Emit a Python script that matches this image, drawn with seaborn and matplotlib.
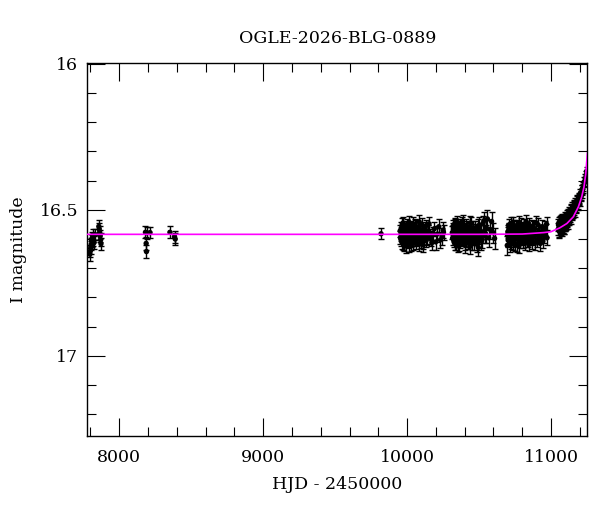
import pandas as pd
import seaborn as sns
import matplotlib.pyplot as plt
from matplotlib.ticker import MultipleLocator, FormatStrFormatter

# I-band photometry, one set of lists per season
s1_hjd = [7796, 7799, 7802, 7805, 7808, 7812, 7816, 7820, 7825, 7830,
          7858, 7861, 7864, 7867, 7870, 7873]
s1_mag = [16.652, 16.641, 16.628, 16.618, 16.606, 16.597, 16.588, 16.601, 16.612, 16.584,
          16.557, 16.566, 16.577, 16.590, 16.603, 16.616]
s1_err = [0.022, 0.021, 0.022, 0.020, 0.021, 0.020, 0.021, 0.022, 0.021, 0.020,
          0.021, 0.020, 0.022, 0.021, 0.022, 0.021]

s2_hjd = [8182, 8187, 8189, 8192, 8214]
s2_mag = [16.577, 16.615, 16.643, 16.579, 16.578]
s2_err = [0.020, 0.021, 0.022, 0.020, 0.020]

s3_hjd = [8352, 8384, 8389]
s3_mag = [16.577, 16.592, 16.600]
s3_err = [0.020, 0.021, 0.021]

s4_hjd = [9819]
s4_mag = [16.582]
s4_err = [0.019]

s5_hjd = [9952, 9957, 9961, 9966, 9970, 9975, 9979, 9984, 9989, 9993,
          9998, 10003, 10008, 10014, 10019, 10025, 10030, 10036, 10042, 10047,
          10053, 10059, 10065, 10071, 10078, 10084, 10091, 10098, 10105, 10112,
          10119, 10128, 10137, 10147, 10158, 10172, 10189, 10209, 10232, 10253,
          9954, 9959, 9963, 9968, 9972, 9977, 9981, 9986, 9991, 9995,
          10000, 10005, 10011, 10016, 10022, 10027, 10033, 10039, 10044, 10050,
          10056, 10062, 10068, 10074, 10081, 10087, 10094, 10101, 10108, 10115,
          10123, 10132, 10142, 10152, 10164, 10180, 10198, 10220, 10243, 10250]
s5_mag = [16.572, 16.601, 16.588, 16.549, 16.614, 16.580, 16.566, 16.597, 16.623, 16.558,
          16.585, 16.609, 16.570, 16.543, 16.593, 16.617, 16.579, 16.561, 16.600, 16.586,
          16.553, 16.611, 16.575, 16.596, 16.563, 16.541, 16.588, 16.606, 16.569, 16.620,
          16.582, 16.556, 16.598, 16.574, 16.591, 16.612, 16.565, 16.583, 16.603, 16.577,
          16.595, 16.563, 16.610, 16.578, 16.545, 16.590, 16.617, 16.568, 16.584, 16.604,
          16.551, 16.598, 16.621, 16.575, 16.560, 16.606, 16.587, 16.547, 16.615, 16.571,
          16.592, 16.558, 16.603, 16.580, 16.618, 16.566, 16.594, 16.550, 16.609, 16.583,
          16.567, 16.605, 16.576, 16.548, 16.599, 16.585, 16.610, 16.558, 16.592, 16.570]
s5_err = [0.021, 0.023, 0.020, 0.022, 0.024, 0.021, 0.020, 0.022, 0.025, 0.021,
          0.022, 0.023, 0.020, 0.021, 0.022, 0.024, 0.021, 0.020, 0.023, 0.022,
          0.021, 0.024, 0.022, 0.023, 0.021, 0.022, 0.023, 0.025, 0.022, 0.024,
          0.023, 0.022, 0.024, 0.023, 0.025, 0.026, 0.024, 0.027, 0.028, 0.026,
          0.022, 0.021, 0.023, 0.020, 0.022, 0.021, 0.024, 0.022, 0.021, 0.023,
          0.020, 0.022, 0.024, 0.021, 0.022, 0.023, 0.021, 0.022, 0.024, 0.021,
          0.023, 0.022, 0.021, 0.024, 0.023, 0.022, 0.021, 0.023, 0.024, 0.022,
          0.024, 0.023, 0.025, 0.024, 0.026, 0.025, 0.027, 0.026, 0.029, 0.027]

s6_hjd = [10314, 10319, 10323, 10328, 10332, 10337, 10342, 10346, 10351, 10356,
          10361, 10366, 10371, 10376, 10382, 10387, 10393, 10399, 10405, 10411,
          10417, 10423, 10430, 10436, 10443, 10450, 10457, 10464, 10471, 10479,
          10487, 10495, 10503, 10512, 10522, 10533, 10545, 10558, 10577, 10608,
          10316, 10321, 10325, 10330, 10335, 10339, 10344, 10349, 10353, 10358,
          10363, 10368, 10374, 10379, 10384, 10390, 10396, 10402, 10408, 10414,
          10420, 10427, 10433, 10440, 10446, 10453, 10460, 10468, 10475, 10483,
          10491, 10499, 10507, 10517, 10527, 10539, 10551, 10567, 10587, 10600]
s6_mag = [16.578, 16.556, 16.603, 16.589, 16.547, 16.612, 16.570, 16.594, 16.561, 16.620,
          16.583, 16.552, 16.607, 16.575, 16.598, 16.540, 16.586, 16.615, 16.566, 16.592,
          16.559, 16.604, 16.579, 16.626, 16.548, 16.590, 16.571, 16.611, 16.563, 16.596,
          16.584, 16.629, 16.553, 16.575, 16.601, 16.538, 16.582, 16.531, 16.567, 16.598,
          16.597, 16.566, 16.585, 16.614, 16.552, 16.579, 16.606, 16.543, 16.590, 16.571,
          16.618, 16.560, 16.583, 16.600, 16.548, 16.593, 16.575, 16.622, 16.556, 16.587,
          16.609, 16.568, 16.596, 16.545, 16.581, 16.613, 16.563, 16.599, 16.574, 16.617,
          16.557, 16.591, 16.572, 16.608, 16.547, 16.586, 16.564, 16.596, 16.540, 16.579]
s6_err = [0.022, 0.021, 0.023, 0.022, 0.020, 0.024, 0.021, 0.022, 0.021, 0.025,
          0.022, 0.021, 0.023, 0.022, 0.023, 0.021, 0.022, 0.024, 0.022, 0.023,
          0.021, 0.024, 0.023, 0.026, 0.022, 0.024, 0.023, 0.025, 0.024, 0.026,
          0.025, 0.028, 0.027, 0.026, 0.029, 0.030, 0.031, 0.030, 0.033, 0.036,
          0.023, 0.021, 0.022, 0.024, 0.021, 0.022, 0.023, 0.021, 0.022, 0.021,
          0.024, 0.022, 0.021, 0.023, 0.022, 0.023, 0.022, 0.025, 0.023, 0.022,
          0.024, 0.023, 0.022, 0.024, 0.023, 0.025, 0.024, 0.023, 0.025, 0.026,
          0.026, 0.025, 0.027, 0.028, 0.027, 0.029, 0.030, 0.031, 0.032, 0.034]

s7_hjd = [10696, 10700, 10705, 10709, 10714, 10719, 10723, 10728, 10733, 10738,
          10743, 10748, 10754, 10759, 10765, 10770, 10776, 10782, 10788, 10794,
          10800, 10807, 10813, 10820, 10827, 10834, 10842, 10849, 10857, 10865,
          10873, 10882, 10891, 10900, 10910, 10920, 10931, 10943, 10956, 10969,
          10698, 10702, 10707, 10712, 10716, 10721, 10726, 10731, 10735, 10740,
          10746, 10751, 10756, 10762, 10767, 10773, 10779, 10785, 10791, 10797,
          10804, 10810, 10817, 10823, 10830, 10838, 10845, 10853, 10861, 10869,
          10878, 10886, 10896, 10905, 10915, 10926, 10937, 10950, 10962, 10972]
s7_mag = [16.622, 16.575, 16.553, 16.598, 16.584, 16.611, 16.563, 16.590, 16.545, 16.606,
          16.572, 16.616, 16.581, 16.557, 16.600, 16.568, 16.624, 16.588, 16.550, 16.595,
          16.577, 16.609, 16.562, 16.586, 16.540, 16.603, 16.571, 16.618, 16.580, 16.558,
          16.597, 16.569, 16.612, 16.584, 16.551, 16.592, 16.575, 16.607, 16.563, 16.549,
          16.588, 16.604, 16.566, 16.619, 16.578, 16.547, 16.596, 16.572, 16.612, 16.583,
          16.555, 16.601, 16.574, 16.620, 16.561, 16.590, 16.543, 16.608, 16.579, 16.566,
          16.598, 16.552, 16.615, 16.585, 16.569, 16.604, 16.548, 16.593, 16.574, 16.611,
          16.560, 16.587, 16.544, 16.602, 16.577, 16.615, 16.558, 16.589, 16.571, 16.596]
s7_err = [0.033, 0.022, 0.021, 0.023, 0.022, 0.024, 0.021, 0.022, 0.021, 0.023,
          0.022, 0.024, 0.022, 0.021, 0.023, 0.022, 0.025, 0.022, 0.021, 0.023,
          0.022, 0.023, 0.021, 0.022, 0.021, 0.023, 0.022, 0.024, 0.023, 0.022,
          0.023, 0.022, 0.024, 0.023, 0.022, 0.024, 0.023, 0.025, 0.024, 0.025,
          0.030, 0.023, 0.022, 0.024, 0.021, 0.022, 0.023, 0.021, 0.024, 0.022,
          0.021, 0.023, 0.022, 0.025, 0.021, 0.022, 0.023, 0.024, 0.022, 0.021,
          0.023, 0.022, 0.024, 0.023, 0.022, 0.024, 0.021, 0.023, 0.022, 0.024,
          0.022, 0.023, 0.022, 0.024, 0.023, 0.025, 0.023, 0.024, 0.023, 0.026]

s8_hjd = [11050, 11054, 11058, 11062, 11066, 11070, 11074, 11078, 11082, 11086,
          11090, 11094, 11098, 11102, 11106, 11110, 11114, 11118, 11122, 11126,
          11131, 11136, 11141, 11146, 11151, 11156, 11161, 11166, 11171, 11176,
          11182, 11188, 11194, 11200, 11206, 11212, 11218, 11225, 11233, 11244,
          11052, 11056, 11060, 11064, 11068, 11072, 11076, 11080, 11084, 11088,
          11092, 11096, 11100, 11104, 11108, 11112, 11116, 11120, 11124, 11128,
          11133, 11138, 11143, 11148, 11153, 11158, 11163, 11168, 11173, 11179,
          11185, 11191, 11197, 11203, 11209, 11215, 11221, 11229, 11238, 11247]
s8_mag = [16.566, 16.545, 16.574, 16.552, 16.560, 16.538, 16.569, 16.547, 16.557, 16.541,
          16.563, 16.543, 16.552, 16.532, 16.548, 16.537, 16.526, 16.544, 16.519, 16.531,
          16.514, 16.527, 16.503, 16.516, 16.498, 16.511, 16.490, 16.505, 16.482, 16.494,
          16.471, 16.483, 16.462, 16.470, 16.451, 16.444, 16.432, 16.419, 16.403, 16.381,
          16.552, 16.571, 16.540, 16.563, 16.548, 16.566, 16.536, 16.558, 16.543, 16.561,
          16.534, 16.550, 16.528, 16.545, 16.521, 16.538, 16.515, 16.533, 16.509, 16.524,
          16.521, 16.500, 16.513, 16.492, 16.507, 16.485, 16.500, 16.478, 16.492, 16.468,
          16.480, 16.458, 16.466, 16.444, 16.455, 16.430, 16.427, 16.405, 16.392, 16.368]
s8_err = [0.021, 0.020, 0.022, 0.021, 0.020, 0.021, 0.022, 0.020, 0.021, 0.020,
          0.021, 0.020, 0.021, 0.020, 0.021, 0.020, 0.019, 0.020, 0.019, 0.020,
          0.019, 0.020, 0.019, 0.018, 0.019, 0.018, 0.019, 0.018, 0.017, 0.018,
          0.017, 0.018, 0.017, 0.016, 0.017, 0.016, 0.016, 0.015, 0.015, 0.015,
          0.020, 0.021, 0.020, 0.022, 0.021, 0.020, 0.021, 0.020, 0.022, 0.021,
          0.020, 0.021, 0.020, 0.019, 0.020, 0.021, 0.019, 0.020, 0.019, 0.019,
          0.020, 0.019, 0.018, 0.019, 0.018, 0.019, 0.018, 0.018, 0.017, 0.018,
          0.017, 0.017, 0.016, 0.017, 0.016, 0.016, 0.015, 0.016, 0.015, 0.014]

# microlensing model curve (magenta)
model_hjd = [7778, 10500, 10800, 10950, 11000, 11060, 11110, 11155, 11190,
             11213, 11229, 11241, 11248, 11253]
model_mag = [16.584, 16.584, 16.583, 16.578, 16.575, 16.562, 16.547, 16.524, 16.490,
             16.456, 16.422, 16.378, 16.335, 16.305]

seasons = [(s1_hjd, s1_mag, s1_err), (s2_hjd, s2_mag, s2_err), (s3_hjd, s3_mag, s3_err),
           (s4_hjd, s4_mag, s4_err), (s5_hjd, s5_mag, s5_err), (s6_hjd, s6_mag, s6_err),
           (s7_hjd, s7_mag, s7_err), (s8_hjd, s8_mag, s8_err)]
frames = []
for i, (h, m, e) in enumerate(seasons):
    frames.append(pd.DataFrame({"hjd": h, "mag": m, "err": e, "season": i + 1}))
phot = pd.concat(frames, ignore_index=True)
model = pd.DataFrame({"hjd": model_hjd, "mag": model_mag})

sns.set_style("ticks")
plt.rcParams["font.family"] = ["DejaVu Serif"]
plt.rcParams.update({"font.size": 12.5, "text.color": "black", "axes.labelcolor": "black",
                     "xtick.color": "black", "ytick.color": "black",
                     "axes.edgecolor": "black"})

fig = plt.figure(figsize=(6, 5.12), dpi=100)
ax = fig.add_axes([0.1455, 0.1484, 0.8333, 0.7291])

ax.errorbar(phot["hjd"], phot["mag"], yerr=phot["err"], fmt="none", ecolor="black",
            elinewidth=1.0, capsize=2.2, capthick=1.0, zorder=2)
sns.scatterplot(data=phot, x="hjd", y="mag", color="black", s=15, edgecolor="none",
                legend=False, ax=ax, zorder=3)
sns.lineplot(data=model, x="hjd", y="mag", color="#ff00ff", linewidth=1.2,
             sort=False, estimator=None, ax=ax, zorder=4)

ax.set_xlim(7778, 11252)
ax.set_ylim(17.275, 15.996)

ax.xaxis.set_major_locator(MultipleLocator(1000))
ax.xaxis.set_minor_locator(MultipleLocator(200))
ax.yaxis.set_major_locator(MultipleLocator(0.5))
ax.yaxis.set_minor_locator(MultipleLocator(0.1))
ax.xaxis.set_major_formatter(FormatStrFormatter("%g"))
ax.yaxis.set_major_formatter(FormatStrFormatter("%g"))

ax.tick_params(which="both", direction="in", top=True, right=True, width=0.8)
ax.tick_params(which="major", length=12.7, labelsize=12.5)
ax.tick_params(which="minor", length=6.7)
ax.tick_params(axis="x", which="major", pad=9.5)
ax.tick_params(axis="y", which="major", pad=6.5)
for sp in ax.spines.values():
    sp.set_linewidth(1.0)

ax.set_xlabel("HJD - 2450000", fontsize=12.5, labelpad=7)
ax.set_ylabel("I magnitude", fontsize=12.5, labelpad=9)
ax.set_title("OGLE-2026-BLG-0889", fontsize=12.5, pad=14)

fig.savefig("out.png", dpi=100)
